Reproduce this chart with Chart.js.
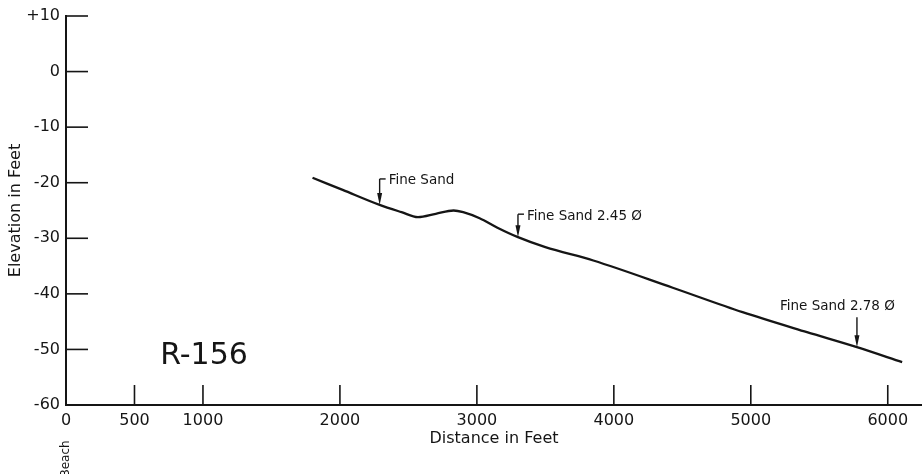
<!DOCTYPE html>
<html>
<head>
<meta charset="utf-8">
<script src="https://cdn.jsdelivr.net/npm/chart.js@4.4.1/dist/chart.umd.min.js"></script>
<style>
    html, body { margin: 0; padding: 0; background: #fff; }
    #wrap { width: 922px; height: 474px; position: relative; }
</style>
</head>
<body>
<div id="wrap"><canvas id="profileChart"></canvas></div>
<script>
// Profile R-156: elevation (ft) against distance from the beach (ft)
const profileX = [1800, 2020, 2290, 2450, 2570, 2700, 2830, 2900, 3020, 3150, 3300, 3500, 3850, 4430, 4940, 5410, 5775, 6105];
const profileY = [-19.1, -21.3, -24.0, -25.3, -26.2, -25.6, -25.0, -25.3, -26.4, -28.1, -29.8, -31.6, -34.0, -38.9, -43.3, -46.9, -49.6, -52.3];

const xTicks = [0, 500, 1000, 2000, 3000, 4000, 5000, 6000];
const yTicks = [10, 0, -10, -20, -30, -40, -50, -60];

// sample notes along the profile
const noteLabels = ['Fine Sand', 'Fine Sand 2.45 \u00D8', 'Fine Sand 2.78 \u00D8'];
const noteX = [2290, 3300, 5775];
const noteY = [-24.0, -29.8, -49.6];

const INK = '#151515';
const FONT = '"DejaVu Sans", sans-serif';

/**
 * Draw a down arrow ending at (x, yTip)
 */
function drawArrow(ctx, x, yTop, yTip) {
    ctx.beginPath();
    ctx.moveTo(x, yTop);
    ctx.lineTo(x, yTip - 6);
    ctx.stroke();
    ctx.beginPath();
    ctx.moveTo(x - 2.5, yTip - 12);
    ctx.lineTo(x + 2.5, yTip - 12);
    ctx.lineTo(x, yTip);
    ctx.closePath();
    ctx.fill();
}

const drawingPlugin = {
    id: 'drawing',
    afterDraw(chart) {
        const ctx = chart.ctx;
        const xs = chart.scales.x;
        const ys = chart.scales.y;
        const x0 = xs.getPixelForValue(0);
        const yBase = ys.getPixelForValue(-60);

        ctx.save();
        ctx.strokeStyle = INK;
        ctx.fillStyle = INK;

        // inner tick marks
        ctx.lineWidth = 1.6;
        yTicks.forEach(v => {
            if (v === -60) return;
            const py = ys.getPixelForValue(v);
            ctx.beginPath();
            ctx.moveTo(x0, py);
            ctx.lineTo(x0 + 22, py);
            ctx.stroke();
        });
        xTicks.forEach(v => {
            if (v === 0) return;
            const px = xs.getPixelForValue(v);
            ctx.beginPath();
            ctx.moveTo(px, yBase);
            ctx.lineTo(px, yBase - 20);
            ctx.stroke();
        });

        // notes
        const stems = [26, 23, 30];
        ctx.lineWidth = 1.4;
        ctx.font = '13.5px ' + FONT;
        ctx.textBaseline = 'middle';
        noteLabels.forEach((label, i) => {
            const px = xs.getPixelForValue(noteX[i]);
            const tip = ys.getPixelForValue(noteY[i]);
            const top = tip - stems[i];
            drawArrow(ctx, px, top, tip);
            ctx.textAlign = 'left';
            if (i < 2) {
                ctx.beginPath();
                ctx.moveTo(px, top);
                ctx.lineTo(px + 6, top);
                ctx.stroke();
                ctx.fillText(label, px + 9, top + 2);
            } else {
                ctx.fillText(label, px - 77, top - 11);
            }
        });

        // profile name
        ctx.font = '30px ' + FONT;
        ctx.textAlign = 'center';
        ctx.fillText('R-156', 204, 356);

        // beach marker under the origin
        ctx.font = '12px ' + FONT;
        ctx.translate(x0, 459);
        ctx.rotate(-Math.PI / 2);
        ctx.fillText('Beach', 0, 0);
        ctx.restore();
    }
};

new Chart(document.getElementById('profileChart'), {
    type: 'line',
    data: {
        datasets: [{
            data: profileX.map((x, i) => ({ x: x, y: profileY[i] })),
            borderColor: INK,
            borderWidth: 2.3,
            pointRadius: 0,
            cubicInterpolationMode: 'monotone',
            fill: false
        }]
    },
    options: {
        responsive: true,
        maintainAspectRatio: false,
        animation: false,
        layout: { padding: { top: 16, right: 0, bottom: 0, left: 0 } },
        plugins: {
            legend: { display: false },
            tooltip: { enabled: false }
        },
        scales: {
            x: {
                type: 'linear',
                min: 0,
                max: 6250,
                afterBuildTicks: scale => {
                    scale.ticks = xTicks.map(v => ({ value: v }));
                },
                afterFit: scale => { scale.height = 69; },
                grid: { display: false, drawTicks: false },
                border: { display: true, color: INK, width: 2 },
                ticks: {
                    color: INK,
                    padding: 6,
                    maxRotation: 0,
                    autoSkip: false,
                    font: { family: FONT, size: 16 },
                    callback: v => String(v)
                },
                title: {
                    display: true,
                    text: 'Distance in Feet',
                    color: INK,
                    font: { family: FONT, size: 16 },
                    padding: { top: 0, bottom: 26 }
                }
            },
            y: {
                min: -60,
                max: 10,
                afterBuildTicks: scale => {
                    scale.ticks = yTicks.map(v => ({ value: v }));
                },
                afterFit: scale => { scale.width = 66; },
                grid: { display: false, drawTicks: false },
                border: { display: true, color: INK, width: 2 },
                ticks: {
                    color: INK,
                    padding: 6,
                    font: { family: FONT, size: 16 },
                    callback: v => (v > 0 ? '+' + v : (v < 0 ? '-' + Math.abs(v) : '0'))
                },
                title: {
                    display: true,
                    text: 'Elevation in Feet',
                    color: INK,
                    font: { family: FONT, size: 16 },
                    padding: { top: 6, bottom: 6 }
                }
            }
        }
    },
    plugins: [drawingPlugin]
});
</script>
</body>
</html>
